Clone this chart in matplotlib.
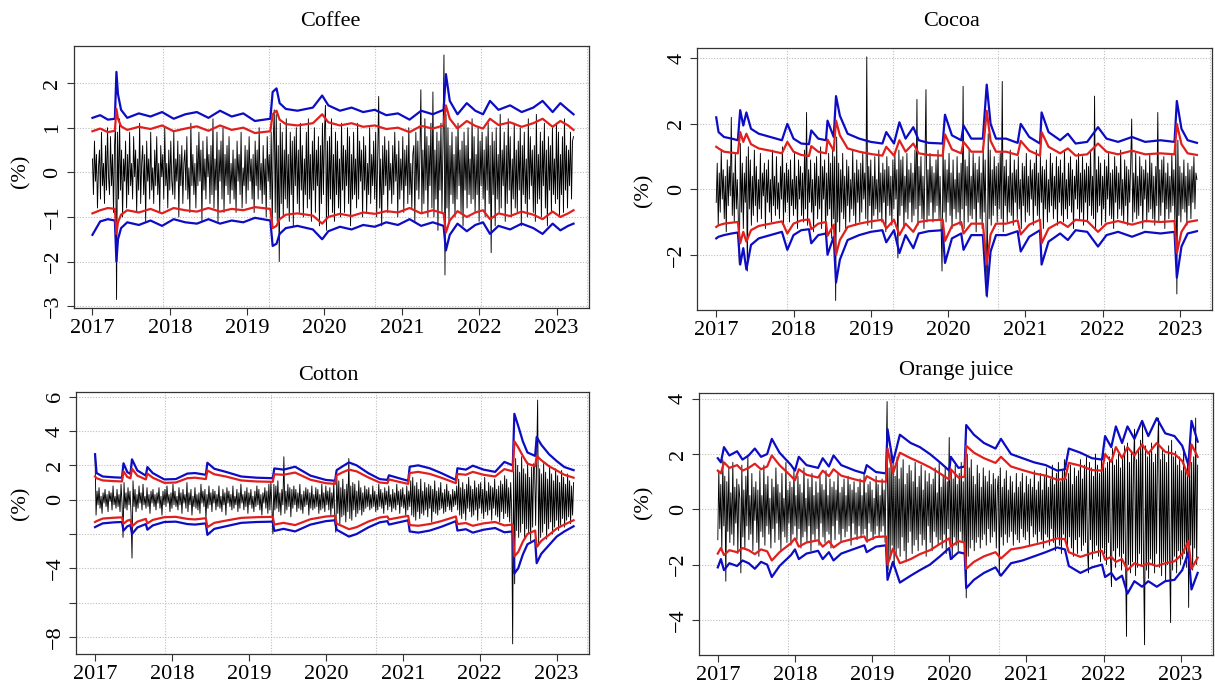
import numpy as np
import matplotlib
matplotlib.use("Agg")
import matplotlib.pyplot as plt

plt.rcParams["font.family"] = ["Liberation Serif", "DejaVu Serif"]

W, H = 1215, 695
START, END = 2017.0, 2023.22
XLIM = (2016.755, 2023.415)
years = [2017, 2018, 2019, 2020, 2021, 2022, 2023]
# R grid() puts the vertical lines at pretty day numbers (17500, 18000, ...)
grid_x = [2017.912, 2019.282, 2020.650, 2022.019, 2023.389]

# ---------------- Coffee ----------------
coffee_t = [2017.00, 2017.10, 2017.20, 2017.29, 2017.31, 2017.33, 2017.37, 2017.45, 2017.60, 2017.75,
            2017.90, 2018.05, 2018.20, 2018.35, 2018.50, 2018.65, 2018.80, 2018.95, 2019.10, 2019.30,
            2019.33, 2019.38, 2019.42, 2019.50, 2019.65, 2019.85, 2019.97, 2020.05, 2020.20, 2020.35,
            2020.50, 2020.65, 2020.80, 2020.95, 2021.10, 2021.25, 2021.40, 2021.54, 2021.57, 2021.62,
            2021.72, 2021.84, 2021.95, 2022.05, 2022.14, 2022.25, 2022.40, 2022.55, 2022.70, 2022.82,
            2022.95, 2023.05, 2023.15, 2023.22]
coffee_up99 = [1.22, 1.28, 1.18, 1.20, 2.25, 1.75, 1.40, 1.22, 1.32, 1.25, 1.35, 1.20, 1.30, 1.35, 1.22,
               1.38, 1.25, 1.32, 1.15, 1.20, 1.80, 1.88, 1.55, 1.42, 1.38, 1.45, 1.72, 1.50, 1.38, 1.45,
               1.35, 1.40, 1.28, 1.32, 1.18, 1.38, 1.30, 1.40, 2.20, 1.60, 1.30, 1.55, 1.38, 1.30, 1.60,
               1.40, 1.50, 1.35, 1.45, 1.60, 1.35, 1.55, 1.40, 1.30]
coffee_up95 = [0.92, 0.98, 0.90, 0.93, 1.42, 1.20, 1.03, 0.95, 1.02, 0.97, 1.05, 0.92, 0.98, 1.03, 0.93,
               1.05, 0.95, 1.00, 0.88, 0.92, 1.30, 1.38, 1.18, 1.08, 1.05, 1.10, 1.30, 1.12, 1.05, 1.10,
               1.02, 1.05, 0.97, 1.00, 0.90, 1.04, 0.98, 1.05, 1.50, 1.20, 0.98, 1.15, 1.04, 0.98, 1.20,
               1.06, 1.12, 1.02, 1.10, 1.20, 1.02, 1.15, 1.05, 0.95]
coffee_lo95 = [-0.92, -0.85, -0.80, -0.82, -1.38, -1.12, -0.95, -0.85, -0.90, -0.82, -0.92, -0.80, -0.85,
               -0.88, -0.80, -0.88, -0.82, -0.85, -0.78, -0.82, -1.25, -1.20, -1.05, -0.95, -0.92, -0.97,
               -1.15, -1.00, -0.93, -0.98, -0.90, -0.93, -0.87, -0.90, -0.80, -0.92, -0.85, -0.92, -1.35,
               -1.08, -0.87, -1.00, -0.90, -0.85, -1.05, -0.92, -0.98, -0.88, -0.95, -1.05, -0.88, -1.00,
               -0.92, -0.85]
coffee_lo99 = [-1.40, -1.10, -1.05, -1.08, -2.00, -1.50, -1.25, -1.12, -1.18, -1.08, -1.20, -1.05, -1.12,
               -1.15, -1.05, -1.15, -1.08, -1.12, -1.02, -1.08, -1.65, -1.60, -1.38, -1.25, -1.20, -1.28,
               -1.50, -1.32, -1.22, -1.28, -1.18, -1.22, -1.12, -1.18, -1.05, -1.20, -1.12, -1.20, -1.75,
               -1.40, -1.15, -1.32, -1.18, -1.12, -1.38, -1.20, -1.28, -1.15, -1.25, -1.38, -1.15, -1.30,
               -1.20, -1.15]
coffee_ret = [
    0.3, -0.5, 0.7, -0.2, 0.4, -0.8, 0.1, 0.5, -0.6, 0.9, -0.3, 0.2, -0.7, 0.6, -0.4, 1.0, -0.1, -0.5, 0.8, -0.3,
    0.4, -0.9, 0.6, 1.1, -2.85, 0.9, -0.6, 1.2, -0.4, 0.5, -1.0, 0.3, -0.2, 0.7, -0.8, 0.4, -0.5, 0.9, -0.3, 0.2,
    -0.6, 0.8, -0.1, 0.5, -0.9, 0.3, -0.4, 1.1, -0.7, 0.2, 0.6, -0.5, 0.4, -1.1, 0.7, -0.2, 0.3, -0.6, 0.9, -0.4,
    0.1, -0.7, 0.5, -0.3, 0.8, -0.5, 0.2, -0.9, 0.6, -0.1, 0.4, -0.6, 1.0, -0.3, 0.2, -0.8, 0.5, -0.4, 0.7, -0.2,
    -0.5, 0.9, -0.6, 0.3, -0.2, 0.7, -1.0, 0.4, -0.3, 0.6, -0.7, 0.2, 0.5, -0.4, 0.8, -0.6, 0.1, -0.9, 1.1, -0.3,
    0.4, -0.5, 0.2, -0.8, 0.6, -0.3, 0.9, -0.2, 0.5, -1.1, 0.7, -0.4, 0.3, -0.6, 0.8, -0.1, 0.4, -0.7, 0.6, -0.5,
    1.2, -0.8, 0.3, -0.4, 0.9, -1.1, 0.5, -0.2, 0.7, -0.6, 1.0, -0.9, 0.4, -0.3, 0.6, -0.5, 0.8, -0.7, 0.2, -0.4,
    0.5, -0.6, 0.3, -0.9, 0.7, -0.2, 0.4, -0.5, 0.9, -0.8, 0.1, -0.3, 0.6, -0.7, 0.5, -0.4, 0.8, -0.2, 0.3, -0.6,
    0.4, -0.9, 0.7, -0.3, 0.5, -0.6, 1.0, -0.4, 0.2, -0.7, 0.6, -0.5, 0.3, -1.0, 0.8, -0.2, 0.4, -0.6, 0.9, -1.2,
    0.7, 1.4, -0.9, 1.3, -1.1, 0.6, -2.0, 1.1, -0.7, 0.9, -1.0, 0.5, -0.6, 1.2, -0.8, 0.4, -1.1, 0.9, -0.5, 0.7,
    -1.2, 0.8, -0.3, 1.0, -0.7, 0.5, -0.9, 1.1, -0.4, 0.6, -1.0, 0.3, -0.5, 0.9, -0.8, 1.2, -0.6, 0.4, -1.1, 0.7,
    -0.4, 1.0, -0.9, 0.5, -0.3, 0.8, -1.2, 0.6, -0.7, 1.1, -0.5, 0.9, 1.5, -1.3, 0.7, -1.0, 0.8, -0.6, 1.2, -0.9,
    0.4, -1.1, 0.9, -0.5, 0.7, -0.8, 0.3, -1.0, 1.1, -0.4, 0.6, -0.9, 0.5, -0.3, 1.0, -0.7, 0.8, -1.2, 0.4, -0.6,
    0.9, -0.5, 0.3, -0.8, 1.1, -0.6, 0.7, -0.2, 0.5, -1.0, 0.8, -0.4, 0.6, -0.9, 0.2, -0.5, 1.0, -0.7, 0.4, -0.3,
    0.7, -0.6, 0.9, -1.0, 0.4, 1.7, -0.8, 0.3, -1.2, 0.6, -0.5, 0.8, -0.3, 0.5, -0.9, 0.7, -0.4, 0.2, -0.7, 0.6,
    -0.5, 0.9, -0.2, 0.4, -1.0, 0.7, -0.6, 0.3, -0.4, 0.8, -0.9, 0.5, -0.3, 0.6, -0.7, 1.0, -0.5, 0.2, -0.8, 0.4,
    0.6, -1.1, 0.9, -0.4, 0.7, -0.6, 0.3, 1.85, -0.9, 0.5, -0.7, 1.2, -0.4, 0.8, -1.0, 0.6, -0.3, 1.1, -0.8, 1.8,
    -1.0, 0.5, -0.6, 0.9, -1.3, 0.7, -0.4, 1.1, -0.9, 0.6, 2.63, -2.3, 1.3, -0.8, 1.0, -1.1, 0.6, -0.5, 0.9, -0.7,
    0.4, -1.0, 0.8, -0.6, 1.1, -0.3, 0.5, -0.9, 0.7, -1.2, 0.9, -0.4, 0.6, -0.8, 1.0, -0.5, 0.3, -0.7, 1.2, -0.6,
    0.8, -0.9, 0.4, -0.5, 1.0, -1.1, 0.7, -0.3, 0.9, -0.6, 0.5, -1.0, 0.8, -0.4, 1.1, -0.7, 0.6, -1.8, 0.9, -0.5,
    0.7, -1.2, 1.0, -0.6, 0.4, -0.9, 1.3, -0.8, 0.5, -0.3, 0.9, -1.1, 0.6, -0.7, 1.2, -0.4, 0.8, -1.0, 0.3, -0.6,
    1.1, -0.8, 0.5, -0.9, 0.7, -0.4, 1.0, -1.2, 0.6, -0.5, 0.9, -0.7, 0.3, -1.0, 1.2, -0.6, 0.8, -0.3, 0.5, -0.9,
    0.6, -1.1, 1.3, -0.7, 0.4, -0.6, 0.9, -1.0, 0.7, -0.3, 1.1, -0.8, 0.5, -1.2, 0.8, -0.4, 0.6, -0.9, 1.0, -0.5,
    0.3, -0.7, 1.1, -0.6, 0.9, -1.0, 0.4, -0.5, 0.8, -0.9, 1.2, -0.4, 0.6, -0.8, 0.5, -0.3, 0.9, -0.6, 0.7, 0.8]

# ---------------- Cocoa ----------------
cocoa_t = [2017.00, 2017.03, 2017.10, 2017.20, 2017.28, 2017.31, 2017.35, 2017.39, 2017.45, 2017.55,
           2017.70, 2017.85, 2017.92, 2018.00, 2018.10, 2018.20, 2018.23, 2018.32, 2018.42, 2018.44,
           2018.52, 2018.55, 2018.60, 2018.70, 2018.85, 2019.00, 2019.15, 2019.20, 2019.30, 2019.37,
           2019.45, 2019.55, 2019.62, 2019.75, 2019.93, 2019.96, 2020.05, 2020.17, 2020.20, 2020.30,
           2020.45, 2020.50, 2020.55, 2020.62, 2020.75, 2020.90, 2020.94, 2021.05, 2021.19, 2021.21,
           2021.30, 2021.45, 2021.55, 2021.65, 2021.80, 2021.94, 2022.05, 2022.20, 2022.38, 2022.55,
           2022.75, 2022.93, 2022.96, 2023.02, 2023.10, 2023.22]
cocoa_up99 = [2.20, 1.75, 1.60, 1.55, 1.50, 2.42, 1.95, 2.35, 1.85, 1.70, 1.60, 1.50, 2.00, 1.55, 1.40,
              1.38, 1.80, 1.55, 1.50, 2.10, 1.60, 2.85, 2.25, 1.70, 1.55, 1.45, 1.40, 1.75, 1.40, 2.05,
              1.55, 1.90, 1.50, 1.42, 1.40, 2.28, 1.65, 1.50, 1.95, 1.55, 1.55, 3.20, 2.00, 1.55, 1.55,
              1.42, 2.00, 1.60, 1.40, 2.35, 1.75, 1.50, 1.70, 1.40, 1.45, 1.90, 1.55, 1.45, 1.60, 1.45,
              1.50, 1.45, 2.70, 1.85, 1.50, 1.42]
cocoa_up95 = [1.30, 1.25, 1.15, 1.12, 1.10, 1.75, 1.45, 1.70, 1.38, 1.25, 1.18, 1.10, 1.45, 1.15, 1.05,
              1.02, 1.32, 1.15, 1.10, 1.52, 1.18, 2.10, 1.65, 1.25, 1.15, 1.08, 1.03, 1.30, 1.03, 1.50,
              1.15, 1.40, 1.10, 1.05, 1.03, 1.68, 1.22, 1.10, 1.45, 1.15, 1.15, 2.40, 1.48, 1.15, 1.15,
              1.05, 1.48, 1.18, 1.03, 1.75, 1.30, 1.10, 1.25, 1.03, 1.07, 1.40, 1.15, 1.07, 1.18, 1.07,
              1.10, 1.07, 2.00, 1.38, 1.10, 1.05]
cocoa_lo95 = [-1.15, -1.10, -1.05, -1.02, -1.00, -1.65, -1.30, -1.60, -1.25, -1.12, -1.05, -0.98, -1.35,
              -1.05, -0.95, -0.92, -1.22, -1.05, -1.00, -1.42, -1.08, -2.00, -1.55, -1.15, -1.05, -0.98,
              -0.93, -1.20, -0.93, -1.40, -1.05, -1.30, -1.00, -0.95, -0.93, -1.58, -1.12, -1.00, -1.35,
              -1.05, -1.05, -2.30, -1.38, -1.05, -1.05, -0.95, -1.38, -1.08, -0.93, -1.65, -1.20, -1.00,
              -1.15, -0.93, -0.97, -1.30, -1.05, -0.97, -1.08, -0.97, -1.00, -0.97, -1.95, -1.30, -1.00,
              -0.95]
cocoa_lo99 = [-1.50, -1.45, -1.40, -1.35, -1.32, -2.30, -1.80, -2.45, -1.70, -1.50, -1.40, -1.30, -1.85,
              -1.40, -1.25, -1.22, -1.65, -1.40, -1.35, -2.00, -1.45, -2.85, -2.15, -1.55, -1.40, -1.30,
              -1.25, -1.62, -1.25, -1.95, -1.40, -1.80, -1.35, -1.28, -1.25, -2.25, -1.50, -1.35, -1.85,
              -1.40, -1.40, -3.25, -1.90, -1.40, -1.40, -1.28, -1.90, -1.45, -1.25, -2.30, -1.60, -1.35,
              -1.55, -1.25, -1.30, -1.75, -1.40, -1.30, -1.45, -1.30, -1.35, -1.30, -2.70, -1.75, -1.35,
              -1.28]
cocoa_ret = [
    -0.4, 0.8, -1.1, 0.5, -0.7, 1.2, -0.3, 0.6, -0.9, 0.4, -1.3, 0.9, -0.5, 0.7, -0.2, 2.2, -0.8, 0.5, -1.0, 1.1,
    -0.6, 0.3, -0.9, -2.3, 1.4, -0.7, 0.8, -1.2, 0.5, -0.4, 1.0, -2.5, 1.3, -0.6, 0.9, -1.1, 0.4, -0.8, 1.2, -0.5,
    0.7, -1.0, 0.3, -0.6, 1.1, -0.9, 0.5, -0.2, 0.8, -1.2, 0.6, -0.4, 0.9, -0.7, 0.3, -1.0, 1.2, -0.5, 0.4, -0.8,
    1.0, -0.6, 0.2, -0.9, 0.7, -0.3, 1.3, -1.1, 0.5, -0.7, 0.8, -0.4, 0.6, -1.0, 0.9, -0.5, 0.3, -0.8, 1.1, -0.6,
    0.4, -1.2, 0.9, -0.3, 0.7, -0.8, 0.5, -1.0, 1.2, -0.6, 2.35, -1.1, 0.6, -0.4, 0.9, -0.7, 0.3, -1.3, 0.8, -0.5,
    1.0, -0.9, 0.4, -0.6, 1.3, -1.2, 0.7, -0.3, 0.9, -1.4, 0.5, -0.8, 1.1, -0.6, 0.8, -1.5, 1.2, -0.9, 1.0, -3.4,
    1.6, -1.0, 0.8, -1.3, 0.6, -0.7, 1.1, -0.9, 0.4, -1.2, 0.9, -0.5, 0.7, -1.0, 0.3, -0.6, 1.2, -0.8, 0.5, -1.1,
    0.9, -0.4, 0.6, -1.0, 0.8, -0.7, 1.1, -0.3, 0.5, -0.9, 4.05, -1.1, 0.7, -0.5, 0.9, -1.2, 0.4, -0.8, 1.0, -0.6,
    0.3, -0.9, 1.2, -0.7, 0.5, -1.0, 0.8, -0.4, 0.6, -1.3, 1.0, -0.5, 0.7, -0.8, 0.4, -1.1, 0.9, -0.6, 1.1, -0.3,
    0.6, -2.1, 1.2, -0.8, 0.9, -0.5, 1.0, -1.2, 0.4, -0.7, 1.1, -0.9, 0.6, -0.4, 0.8, -1.0, 0.5, -0.8, 1.2, -0.6,
    2.75, -1.1, 0.7, -0.5, 1.0, -0.9, 0.4, -1.2, 0.8, 3.05, -1.0, 0.6, -0.8, 1.1, -0.4, 0.7, -1.0, 0.5, -0.7, 0.9,
    -0.5, 1.2, -0.9, 0.4, -1.1, -2.5, 1.4, -0.7, 0.9, -1.0, 0.6, -0.4, 1.1, -0.8, 0.5, -1.2, 0.9, -0.6, 0.3, -0.9,
    1.0, -0.7, 0.5, -1.1, 0.8, -0.6, 3.15, -1.2, 0.9, -0.5, 0.7, -1.0, 1.2, -0.8, 0.4, -0.9, 1.1, -0.6, 0.8, -1.3,
    0.6, -0.4, 1.0, -0.9, 0.5, -1.2, 1.3, -0.7, 0.9, -1.5, -3.3, 1.7, -0.9, 1.2, -1.1, 0.6, -0.8, 1.0, -0.5, 0.7,
    -1.0, 0.8, -0.6, 1.1, -0.9, 3.3, -1.3, 0.7, -0.5, 0.9, -1.0, 0.4, -0.7, 1.2, -0.8, 0.5, -1.1, 0.9, -0.4, 0.6,
    -0.9, 1.0, -0.6, 0.3, -1.2, 0.8, -0.5, 0.7, -1.0, 1.1, -0.7, 0.4, -0.8, 0.9, -0.3, 0.6, -1.1, 0.8, -0.5, 1.2,
    -0.8, 0.5, -0.9, 1.0, -0.4, 0.7, -1.2, 0.6, -0.6, 0.9, -1.0, 0.3, -0.7, 1.1, -0.5, 0.8, -0.9, 0.4, -0.6, 1.0,
    -1.1, 0.7, -0.4, 0.9, -0.8, 0.5, -1.0, 1.2, -0.6, 0.3, -0.9, 0.8, -0.5, 1.0, -0.7, 0.6, -1.2, 0.4, -0.3, 0.9,
    -0.6, 1.1, -0.9, 0.5, -0.7, 1.0, -1.1, 0.6, -0.4, 0.8, -1.0, 0.7, -0.5, 1.2, -0.8, 0.4, -0.9, 2.85, -1.2, 0.6,
    -0.7, 1.0, -0.5, 0.8, -1.1, 0.4, -0.6, 0.9, -1.0, 0.7, -0.3, 1.1, -0.8, 0.5, -0.9, 0.6, -1.2, 1.0, -0.4, 0.7,
    -0.9, 0.5, -0.6, 1.2, -0.8, 0.3, -1.0, 0.9, -0.5, 0.7, -1.1, 0.6, -0.4, 0.8, 2.15, -1.0, 0.5, -0.7, 1.1, -0.9,
    0.4, -0.8, 1.0, -0.5, 0.7, -1.2, 0.6, -0.3, 0.9, -1.0, 0.5, -0.7, 1.1, -0.6, 0.8, -0.9, 0.4, -1.1, 0.7, -0.5,
    2.35, -1.0, 0.6, -0.8, 0.9, -0.4, 1.0, -1.2, 0.5, -0.6, 0.8, -0.9, 0.4, -0.7, 1.1, -0.5, 0.6, -1.0, 1.4, -3.2,
    1.5, -0.8, 0.7, -1.0, 0.5, -0.6, 0.9, -0.7, 0.4, -1.1, 0.8, -0.5, 0.6, -0.9, 0.7, -0.4, 1.0, -0.6, 0.5, 0.3]

# ---------------- Cotton ----------------
cotton_t = [2017.00, 2017.02, 2017.10, 2017.25, 2017.35, 2017.37, 2017.42, 2017.46, 2017.48, 2017.55,
            2017.66, 2017.68, 2017.75, 2017.90, 2018.05, 2018.20, 2018.30, 2018.44, 2018.46, 2018.55,
            2018.70, 2018.90, 2019.10, 2019.31, 2019.33, 2019.45, 2019.60, 2019.80, 2020.00, 2020.12,
            2020.14, 2020.22, 2020.30, 2020.40, 2020.55, 2020.70, 2020.80, 2020.82, 2020.95, 2021.07,
            2021.09, 2021.20, 2021.35, 2021.50, 2021.69, 2021.71, 2021.82, 2021.91, 2022.05, 2022.20,
            2022.32, 2022.43, 2022.45, 2022.50, 2022.56, 2022.62, 2022.72, 2022.74, 2022.80, 2022.90,
            2023.00, 2023.10, 2023.22]
cotton_up99 = [2.65, 1.55, 1.35, 1.30, 1.28, 2.12, 1.60, 1.50, 2.35, 1.70, 1.40, 1.90, 1.55, 1.18, 1.20,
               1.52, 1.55, 1.45, 2.15, 1.80, 1.62, 1.35, 1.28, 1.25, 1.82, 1.75, 1.92, 1.40, 1.15, 1.10,
               1.72, 1.95, 2.17, 2.00, 1.55, 1.20, 1.15, 1.42, 1.25, 1.10, 1.92, 2.00, 1.83, 1.55, 1.15,
               1.83, 1.75, 1.98, 1.75, 1.62, 2.20, 2.00, 5.00, 4.30, 3.40, 2.75, 2.55, 3.65, 3.20, 2.65,
               2.25, 1.90, 1.72]
cotton_up95 = [1.35, 1.25, 1.12, 1.08, 1.06, 1.65, 1.32, 1.25, 1.80, 1.40, 1.18, 1.52, 1.28, 0.98, 1.00,
               1.25, 1.28, 1.20, 1.70, 1.48, 1.35, 1.12, 1.06, 1.04, 1.48, 1.45, 1.58, 1.16, 0.96, 0.92,
               1.42, 1.60, 1.75, 1.65, 1.30, 1.00, 0.96, 1.18, 1.04, 0.92, 1.55, 1.62, 1.50, 1.28, 0.96,
               1.50, 1.45, 1.62, 1.45, 1.35, 1.78, 1.65, 3.40, 3.05, 2.55, 2.10, 1.95, 2.55, 2.30, 1.95,
               1.70, 1.45, 1.28]
cotton_lo95 = [-1.30, -1.25, -1.10, -1.05, -1.03, -1.40, -1.22, -1.17, -1.55, -1.28, -1.12, -1.38, -1.18,
               -1.02, -1.00, -1.12, -1.15, -1.08, -1.60, -1.35, -1.22, -1.06, -1.02, -1.00, -1.45, -1.35,
               -1.48, -1.14, -0.98, -0.94, -1.40, -1.55, -1.72, -1.60, -1.28, -1.04, -0.98, -1.15, -1.04,
               -0.94, -1.48, -1.52, -1.42, -1.25, -0.98, -1.42, -1.36, -1.52, -1.38, -1.30, -1.50, -1.45,
               -3.30, -3.05, -2.45, -2.00, -1.80, -2.75, -2.40, -2.05, -1.68, -1.45, -1.20]
cotton_lo99 = [-1.60, -1.55, -1.38, -1.32, -1.30, -1.80, -1.55, -1.48, -2.00, -1.62, -1.42, -1.75, -1.50,
               -1.30, -1.28, -1.42, -1.45, -1.38, -2.05, -1.70, -1.55, -1.35, -1.30, -1.28, -1.82, -1.70,
               -1.85, -1.45, -1.25, -1.20, -1.75, -1.95, -2.15, -2.00, -1.62, -1.32, -1.25, -1.45, -1.32,
               -1.20, -1.85, -1.92, -1.80, -1.58, -1.25, -1.80, -1.72, -1.92, -1.75, -1.65, -1.90, -1.85,
               -4.30, -4.00, -3.20, -2.60, -2.35, -3.70, -3.15, -2.65, -2.15, -1.85, -1.55]
cotton_ret = [
    2.6, -0.9, 0.5, -0.3, 0.7, -0.5, 0.2, -0.8, 0.4, -0.2, 0.6, -0.4, 0.3, -0.7, 0.5, -0.1, 0.4, -0.6, 0.8, -0.3,
    0.2, -0.5, 0.6, -0.4, 0.3, -0.7, 0.9, -0.2, -2.2, 1.0, -0.5, 0.4, -0.6, 0.7, -0.3, 0.5, -0.8, -3.4, 1.1, -0.4,
    0.6, -0.7, 0.3, -0.5, 0.8, -0.2, 0.4, -0.6, 0.9, -0.3, 0.2, -0.5, 0.7, -0.4, 0.3, -0.8, 0.5, -0.2, 0.6, -0.4,
    0.3, -0.6, 0.4, -0.2, 0.7, -0.5, 0.2, -0.9, 0.5, -0.3, 0.6, -0.4, 0.8, -0.2, 0.3, -0.7, 0.4, -0.5, 0.9, -0.3,
    0.5, -0.4, 0.2, -0.6, 0.7, -0.3, 0.4, -0.8, 0.6, -0.2, 0.3, -0.5, 1.0, -0.7, 0.4, -0.3, 0.6, -0.9, 0.2, -0.4,
    0.7, -0.5, 0.3, -0.6, 0.4, -0.8, 0.9, -0.2, 0.5, -0.4, 0.6, -1.1, 0.3, -0.5, 0.8, -0.3, 0.4, -0.7, 0.6, -0.2,
    0.5, -0.6, 0.3, -0.4, 0.8, -0.5, 0.2, -0.7, 0.6, -0.3, 0.4, -0.9, 0.7, -0.2, 0.5, -0.4, 0.3, -0.6, 0.8, -0.5,
    0.2, -0.3, 0.6, -0.7, 0.4, -0.5, 0.9, -0.2, 0.3, -0.6, 0.5, -0.4, 0.7, -0.8, 0.4, -0.3, 0.6, -0.5, 0.2, -0.7,
    0.5, -0.4, 0.8, -0.3, 0.6, -0.6, 0.3, -0.9, 0.4, -0.2, 0.7, -0.5, 0.5, -0.8, 0.9, -0.6, 1.0, -0.4, -2.0, 0.9,
    -0.6, 0.8, -0.5, 1.1, -0.7, 0.4, -0.9, 0.6, -0.3, 2.5, -0.8, 0.5, -0.6, 0.9, -0.4, 0.7, -1.0, 0.6, -0.5, 0.8,
    -0.3, 0.6, -0.7, 0.4, -0.5, 0.9, -0.6, 0.3, -0.8, 0.5, -0.4, 0.7, -0.3, 0.6, -0.9, 0.4, -0.5, 0.8, -0.6, 0.3,
    -0.5, 0.7, -0.4, 0.6, -0.8, 0.3, -0.6, 0.9, -0.5, 0.4, -0.7, 0.8, -0.3, 0.5, -0.6, 0.7, -0.9, 0.4, -0.5, 1.0,
    -1.2, -1.9, 1.3, -0.8, 1.1, -1.4, 0.7, -1.0, 1.2, -0.9, 0.6, -1.3, 0.9, -0.7, 2.4, -1.1, 0.8, -1.2, 1.0, -0.6,
    0.9, -1.0, 0.5, -0.8, 1.1, -0.6, 0.7, -0.9, 0.4, -0.7, 0.8, -0.5, 0.6, -0.4, 0.7, -0.6, 0.3, -0.5, 0.8, -0.4,
    0.5, -0.7, 0.3, -0.6, 0.9, -0.4, 0.6, -0.5, 0.4, -0.8, 0.7, -0.3, 0.5, -0.6, 0.8, -0.4, 0.3, -0.7, 0.6, -0.5,
    0.4, -0.6, 0.9, -0.3, 0.5, -0.8, 0.6, -0.4, 0.7, -0.5, 0.3, -0.9, 0.8, -0.6, 0.5, -0.4, 1.1, -0.9, 1.3, -1.0,
    0.8, -1.2, 1.0, -0.7, 0.6, -1.1, 1.2, -0.8, 0.5, -0.9, 1.0, -0.6, 0.7, -1.0, 0.9, -0.5, 0.8, -1.3, 0.6, -0.7,
    1.1, -0.8, 0.5, -0.9, 0.7, -0.6, 1.0, -0.5, 0.4, -0.8, 0.6, -0.7, 0.9, -0.4, 0.5, -0.6, 0.3, -0.7, 0.6, -0.4,
    0.5, -0.3, 0.8, -0.6, 1.2, -0.9, 0.7, -1.1, 1.0, -0.8, 0.6, -1.2, 0.9, -0.5, 1.3, -0.7, 0.8, -1.0, 0.6, -0.9,
    1.1, -0.6, 0.7, -1.2, 0.9, -0.5, 1.0, -0.8, 0.6, -1.1, 1.3, -0.7, 0.5, -0.9, 1.0, -0.6, 0.8, -1.2, 0.7, -0.5,
    1.2, -0.9, 0.6, -1.0, 0.8, -1.3, 1.1, -0.7, 0.9, -1.1, 1.4, -0.8, 1.2, -1.0, 0.7, -1.3, 1.0, -0.6, -8.4, 2.1,
    -4.9, 2.4, -1.8, 2.0, -2.2, 1.6, -1.9, 2.5, -1.4, 1.8, -2.3, 1.5, -1.7, 2.2, -2.0, 1.3, -2.4, 1.9, -1.6, 2.1,
    1.9, -1.5, 2.0, 5.8, -2.7, 1.8, -2.2, 1.5, -1.9, 2.1, -1.4, 1.6, -2.3, 1.2, -1.7, 2.0, -1.3, 1.5, -2.0, 1.1,
    -1.6, 1.8, -1.2, 1.4, -1.8, 1.0, -1.5, 1.7, -1.1, 1.3, -1.6, 0.9, -1.2, 1.5, -1.0, 1.1, -1.4, 0.8, -0.9, 1.0]

# ---------------- Orange juice ----------------
oj_t = [2017.00, 2017.04, 2017.08, 2017.15, 2017.25, 2017.32, 2017.40, 2017.48, 2017.56, 2017.64,
        2017.70, 2017.80, 2017.95, 2018.00, 2018.05, 2018.15, 2018.30, 2018.36, 2018.44, 2018.50,
        2018.60, 2018.78, 2018.90, 2018.93, 2019.05, 2019.18, 2019.20, 2019.27, 2019.36, 2019.50,
        2019.62, 2019.75, 2019.88, 2020.00, 2020.02, 2020.12, 2020.20, 2020.22, 2020.32, 2020.45,
        2020.60, 2020.67, 2020.80, 2020.95, 2021.10, 2021.25, 2021.40, 2021.50, 2021.55, 2021.70,
        2021.85, 2021.98, 2022.02, 2022.10, 2022.16, 2022.24, 2022.31, 2022.40, 2022.50, 2022.58,
        2022.69, 2022.80, 2022.92, 2023.02, 2023.10, 2023.14, 2023.22]
oj_up99 = [1.85, 1.70, 2.25, 1.95, 2.10, 1.80, 1.95, 2.20, 1.90, 2.00, 2.55, 2.05, 1.60, 1.40, 1.90, 1.60,
           1.50, 1.85, 1.55, 1.95, 1.60, 1.40, 1.30, 1.60, 1.35, 1.30, 2.90, 1.70, 2.70, 2.40, 2.25, 2.00,
           1.70, 1.40, 1.90, 1.50, 1.55, 3.05, 2.70, 2.40, 2.20, 2.55, 2.00, 1.85, 1.70, 1.60, 1.40, 1.45,
           2.20, 2.05, 1.85, 1.80, 2.65, 2.25, 3.00, 2.40, 3.00, 2.55, 3.20, 2.65, 3.30, 2.75, 2.65, 2.30,
           1.60, 3.20, 2.45]
oj_up95 = [1.40, 1.30, 1.70, 1.50, 1.60, 1.40, 1.50, 1.65, 1.45, 1.55, 1.95, 1.60, 1.20, 1.05, 1.45, 1.25,
           1.15, 1.40, 1.20, 1.45, 1.22, 1.08, 1.00, 1.20, 1.02, 1.00, 2.20, 1.30, 2.05, 1.85, 1.70, 1.52,
           1.30, 1.08, 1.45, 1.15, 1.18, 2.30, 2.05, 1.85, 1.68, 1.90, 1.55, 1.42, 1.30, 1.22, 1.07, 1.10,
           1.68, 1.58, 1.42, 1.40, 2.00, 1.72, 2.25, 1.85, 2.25, 1.95, 2.35, 2.02, 2.40, 2.08, 2.00, 1.75,
           1.20, 2.35, 1.90]
oj_lo95 = [-1.60, -1.40, -1.65, -1.48, -1.55, -1.40, -1.48, -1.62, -1.45, -1.52, -1.85, -1.55, -1.22, -1.05,
           -1.35, -1.20, -1.12, -1.35, -1.15, -1.38, -1.18, -1.05, -0.98, -1.15, -1.00, -0.98, -2.00, -1.42,
           -1.95, -1.80, -1.62, -1.48, -1.25, -1.05, -1.35, -1.15, -1.20, -2.15, -1.90, -1.70, -1.55, -1.78,
           -1.45, -1.38, -1.28, -1.18, -1.05, -1.08, -1.55, -1.72, -1.58, -1.50, -1.82, -1.72, -1.90, -1.80,
           -2.20, -1.95, -2.05, -1.95, -2.05, -1.95, -1.88, -1.62, -1.15, -2.15, -1.75]
oj_lo99 = [-2.10, -1.80, -2.20, -1.95, -2.05, -1.85, -1.95, -2.15, -1.90, -2.00, -2.45, -2.05, -1.65, -1.45,
           -1.80, -1.60, -1.50, -1.80, -1.55, -1.85, -1.60, -1.42, -1.30, -1.55, -1.35, -1.30, -2.55, -1.90,
           -2.65, -2.40, -2.20, -2.00, -1.70, -1.40, -1.80, -1.55, -1.60, -2.85, -2.55, -2.30, -2.10, -2.40,
           -1.95, -1.85, -1.70, -1.55, -1.38, -1.45, -2.05, -2.30, -2.10, -2.00, -2.45, -2.30, -2.55, -2.40,
           -3.05, -2.60, -2.80, -2.60, -2.80, -2.60, -2.55, -2.20, -1.55, -2.90, -2.30]
oj_ret = [
    -1.1, 1.4, -0.7, 0.9, -1.5, 1.8, -0.6, 1.2, -2.6, 1.0, -0.8, 1.5, -1.2, 0.6, -0.9, 1.7, -1.3, 0.8, -0.5, 1.1,
    -1.6, 0.9, 0.4, -2.3, 1.6, -1.0, 0.7, -1.4, 1.2, -0.6, 1.9, -1.1, 0.5, -0.9, 1.3, -1.5, 0.8, -0.4, 1.0, -1.2,
    0.7, -1.7, 1.4, -0.8, 0.5, -1.0, 1.6, -1.3, 0.9, -0.6, 1.2, -0.9, 0.4, -1.4, 1.1, -0.7, 0.8, -1.2, 1.5, -0.5,
    0.9, -1.1, 0.6, -1.5, 1.3, -0.8, 0.4, -1.0, 1.7, -1.2, 0.7, -0.5, 1.0, -1.3, 0.8, -0.9, 1.4, -0.6, 0.5, -1.1,
    1.2, -0.7, 0.9, -1.4, 0.6, -1.0, 1.5, -0.8, 0.4, -1.2, 1.1, -0.6, 0.8, -1.5, 1.3, -0.9, 0.5, -1.1, 1.0, -0.7,
    0.6, -1.3, 1.2, -0.5, 0.9, -1.0, 0.7, -1.2, 1.4, -0.8, 0.5, -0.9, 1.1, -1.4, 0.8, -0.6, 1.0, -1.1, 0.7, -0.4,
    1.3, -0.9, 0.6, -1.2, 0.8, -0.7, 1.1, -1.0, 0.5, -0.8, 1.2, -0.6, 0.9, -1.3, 0.7, -0.5, 1.0, -0.9, 0.6, -1.1,
    0.8, -0.6, 1.1, -1.0, 0.5, -0.9, 1.3, -0.7, 0.6, -1.2, 0.9, -0.5, 1.0, -0.8, 0.7, -1.1, 0.4, -0.9, 1.2, -0.6,
    0.9, -1.0, 0.5, -0.8, 1.1, -0.6, 0.7, -1.2, 1.6, 3.9, -2.2, 1.5, -1.8, 2.0, -1.3, 1.7, -2.1, 1.2, -1.6, 1.9,
    -1.4, 1.1, -1.7, 1.5, -1.0, 1.8, -1.5, 0.9, -1.9, 1.3, -1.2, 1.6, -0.8, 1.4, -1.6, 1.0, -1.3, 1.7, -1.1, 0.8,
    -1.5, 1.2, -0.9, 1.6, -1.3, 0.7, -1.1, 1.4, -1.7, 1.0, -0.6, 1.3, -1.2, 0.9, -1.5, 1.1, -0.8, 1.5, -1.0, 0.6,
    -1.3, 1.7, -1.1, 0.8, -1.4, 1.2, -0.9, 1.5, -1.6, 1.0, -0.7, 2.6, -1.2, 1.4, -1.8, 1.1, -1.0, 1.6, -1.3, 0.9,
    -1.5, 1.3, -0.8, 1.7, -1.2, 1.0, -1.6, 1.4, -3.2, 2.0, -1.7, 1.5, -1.4, 1.8, -1.1, 1.2, -1.5, 0.9, -1.2, 1.6,
    -1.0, 1.3, -1.4, 0.8, -1.1, 1.5, -0.9, 1.2, -1.3, 1.0, -0.7, 1.4, -1.2, 0.9, -1.0, 1.3, -0.8, 1.1, -1.4, 0.7,
    1.2, -2.4, 1.5, -1.0, 0.8, -1.3, 1.1, -0.9, 1.4, -1.2, 0.7, -1.0, 1.2, -0.8, 1.0, -1.3, 0.6, -0.9, 1.3, -1.1,
    0.8, -1.2, 1.0, -0.7, 1.3, -1.0, 0.6, -1.1, 1.2, -0.8, 0.9, -1.3, 1.1, -0.6, 0.8, -1.0, 1.4, -0.9, 0.7, -1.2,
    1.0, -0.8, 1.3, -1.1, 0.7, -1.4, 1.2, -0.9, 1.5, -1.0, 0.8, -1.3, 1.1, -0.7, 1.6, -1.2, 0.9, -1.5, 1.3, -1.0,
    1.7, -1.3, 1.0, -1.6, 1.4, -0.9, 1.8, -1.2, 1.1, -1.5, 1.3, -1.0, 1.6, -1.4, 0.9, -1.7, 1.5, -1.1, 1.2, -1.6,
    1.4, -1.0, 1.8, -1.5, 1.1, -1.3, 1.6, -1.2, 1.9, -1.4, -2.3, 1.7, -1.1, 1.5, -1.8, 1.2, -1.5, 2.0, -1.3, 1.6,
    -1.7, 1.3, -1.9, 1.8, -1.4, 2.1, -1.6, 1.5, -2.0, 1.7, -1.2, 1.9, -1.8, -2.8, 2.2, -1.5, 1.6, -2.1, 1.8, -1.4,
    2.0, -1.7, 1.5, -2.2, 1.9, -1.6, 2.3, -1.8, -4.6, 2.4, -2.0, 1.7, -2.3, 2.1, -1.9, 1.6, 2.9, -2.4, 1.8, -2.1,
    2.2, -1.6, 2.5, -2.0, 3.2, -1.9, -4.9, 2.3, -2.2, 1.9, -2.5, 2.1, -1.8, 2.4, -2.0, 1.7, -2.3, 2.0, -1.6, 2.2,
    3.3, -2.1, 1.8, -2.4, 2.2, -1.9, 2.0, -2.6, 1.7, -2.0, 2.3, -1.8, -4.1, 2.5, -2.2, 1.9, -1.7, 2.1, -2.3, 1.6,
    -1.5, 1.9, -2.0, 1.4, -1.8, 2.2, -1.6, 1.5, -2.1, 1.8, -3.55, 2.0, -1.3, 1.7, -2.2, 1.9, -1.4, 3.3, -2.0, 1.6]


def m(v):
    return f"{v}".replace("-", "\u2212")


# panel layout in pixels of the reference: (left, top, right, bottom)
panels = [
    dict(title="Coffee", t=coffee_t, bands=(coffee_up99, coffee_up95, coffee_lo95, coffee_lo99),
         ret=coffee_ret, ylim=(-3.04, 2.83), yticks=[-3, -2, -1, 0, 1, 2], ylab=[-3, -2, -1, 0, 1, 2],
         box=(73.5, 46, 588.6, 308), title_xy=(330, 22), ylab_xy=(21, 171)),
    dict(title="Cocoa", t=cocoa_t, bands=(cocoa_up99, cocoa_up95, cocoa_lo95, cocoa_lo99),
         ret=cocoa_ret, ylim=(-3.69, 4.33), yticks=[-2, 0, 2, 4], ylab=[-2, 0, 2, 4],
         box=(697.3, 47.7, 1212.0, 310), title_xy=(952, 22), ylab_xy=(644, 190)),
    dict(title="Cotton", t=cotton_t, bands=(cotton_up99, cotton_up95, cotton_lo95, cotton_lo99),
         ret=cotton_ret, ylim=(-8.99, 6.29), yticks=[-8, -6, -4, -2, 0, 2, 4, 6], ylab=[-8, -4, 0, 2, 4, 6],
         box=(76.2, 391.7, 588.6, 654), title_xy=(328, 375), ylab_xy=(21, 503)),
    dict(title="Orange juice", t=oj_t, bands=(oj_up99, oj_up95, oj_lo95, oj_lo99),
         ret=oj_ret, ylim=(-5.27, 4.22), yticks=[-4, -2, 0, 2, 4], ylab=[-4, -2, 0, 2, 4],
         box=(698.9, 392.7, 1212.7, 655), title_xy=(956, 371), ylab_xy=(644, 502)),
]

BLUE = "#0c0cc4"
RED = "#e0201e"

fig = plt.figure(figsize=(W / 100, H / 100), dpi=100)

for p in panels:
    l, t, r, b = p["box"]
    ax = fig.add_axes([l / W, 1 - b / H, (r - l) / W, (b - t) / H])
    ax.set_xlim(*XLIM)
    ax.set_ylim(*p["ylim"])

    for gx in grid_x:
        ax.axvline(gx, color="#bdbdbd", lw=0.8, ls=(0, (1, 1.5)), zorder=0)
    for gy in p["yticks"]:
        ax.axhline(gy, color="#bdbdbd", lw=0.8, ls=(0, (1, 1.5)), zorder=0)

    ret = np.array(p["ret"])
    ax.plot(np.linspace(START, END, len(ret)), ret, color="black", lw=0.65, zorder=2)

    up99, up95, lo95, lo99 = p["bands"]
    ax.plot(p["t"], up99, color=BLUE, lw=1.6, zorder=3)
    ax.plot(p["t"], lo99, color=BLUE, lw=1.6, zorder=3)
    ax.plot(p["t"], up95, color=RED, lw=1.6, zorder=4)
    ax.plot(p["t"], lo95, color=RED, lw=1.6, zorder=4)

    ax.set_xticks(years)
    ax.set_xticklabels([str(y) for y in years])
    ax.set_yticks(p["yticks"])
    ax.set_yticklabels([m(v) if v in p["ylab"] else "" for v in p["yticks"]],
                       rotation=90, va="center")
    ax.tick_params(direction="out", length=5, width=0.8, labelsize=16, pad=3, color="#333333")
    for s in ax.spines.values():
        s.set_color("#333333")
        s.set_linewidth(0.9)

    tx, ty = p["title_xy"]
    fig.text(tx / W, 1 - ty / H, p["title"], ha="center", va="center", fontsize=16)
    lx, ly = p["ylab_xy"]
    fig.text(lx / W, 1 - ly / H, "(%)", ha="center", va="center", rotation=90, fontsize=16)

fig.savefig("out.png", dpi=100)
